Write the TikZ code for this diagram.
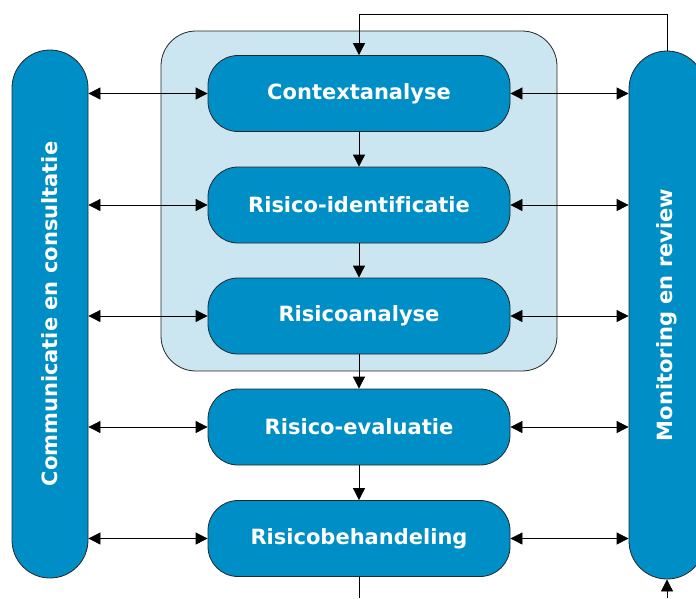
\documentclass[tikz,border=0pt]{standalone}
\usepackage{fontspec}
\setsansfont{DejaVu Sans}[Ligatures=NoCommon]
\usetikzlibrary{arrows.meta}
\definecolor{stapblauw}{RGB}{0,142,198}
\definecolor{kaderblauw}{RGB}{204,230,241}
\tikzset{
  stap/.style={draw=black!85, fill=stapblauw, rounded corners=30pt,
    minimum width=302pt, minimum height=76pt, text=white,
    font=\sffamily\bfseries\fontsize{21}{25}\selectfont},
  balk/.style={stap, rotate=90, rounded corners=37.9pt,
    minimum width=528pt, minimum height=76pt},
  pijl/.style={-{Triangle[length=12pt,width=12pt]}},
  beide/.style={{Triangle[length=12pt,width=12pt]}-{Triangle[length=12pt,width=12pt]}}
}

\begin{document}
\begin{tikzpicture}[x=1pt,y=-1pt,line width=0.8pt]
      \useasboundingbox (0,0) rectangle (696,598);
      \clip (0,0) rectangle (696,598);
      \node [draw=black!85, fill=kaderblauw, rounded corners=35pt,
        minimum width=396pt, minimum height=340pt] (fase) at (359,201) {};
      \node [balk] (comm) at (50,314) {Communicatie en consultatie};
      \node [balk] (mon) at (667,315) {Monitoring en review};
      \node [stap] (ctx) at (359,93.5) {Contextanalyse};
      \node [stap] (ide) at (359,205) {Risico-identificatie};
      \node [stap] (ana) at (359,316) {Risicoanalyse};
      \node [stap] (eva) at (359,427) {Risico-evaluatie};
      \node [stap] (beh) at (359,538.5) {Risicobehandeling};
      \coordinate (uit) at (359,598);
      \coordinate (in) at (667,598);
      \draw [pijl] (ctx) -- (ide);
      \draw [pijl] (ide) -- (ana);
      \draw [pijl] (ana) -- (eva);
      \draw [pijl] (eva) -- (beh);
      \draw (beh) -- (uit);
      \draw [pijl] (in) -- (mon.west);
      \draw [pijl] (mon.east) -- ++(0,-36) -| (ctx.north);
      \foreach \s in {ctx,ide,ana,eva,beh} {
        \draw [beide] (comm.south |- \s.west) -- (\s.west);
        \draw [beide] (\s.east) -- (mon.north |- \s.east);
      }
      \end{tikzpicture}
\end{document}
